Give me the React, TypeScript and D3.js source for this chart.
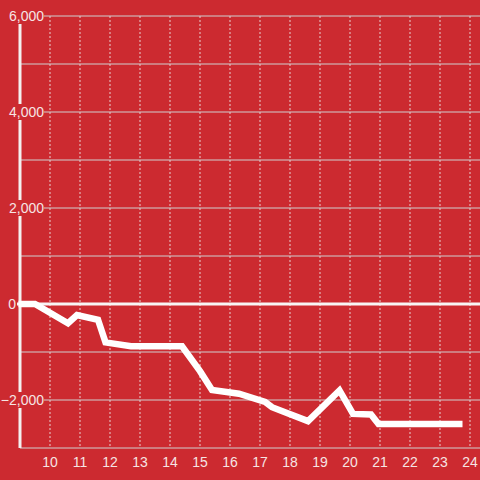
import React from "react";
import * as d3 from "d3";

const hours = [8.95, 9.5, 10.6, 10.9, 11.6, 11.85, 12.7, 14.4, 15.0, 15.4, 16.3, 17.17, 17.4, 18.6, 19.65, 20.1, 20.7, 20.95, 23.75];
const values = [0, 0, -400, -230, -330, -800, -880, -880, -1400, -1790, -1870, -2040, -2150, -2440, -1800, -2290, -2300, -2500, -2500];
const xTicks = [10, 11, 12, 13, 14, 15, 16, 17, 18, 19, 20, 21, 22, 23, 24];
const yGrid = [6000, 5000, 4000, 3000, 2000, 1000, 0, -1000, -2000, -3000];
const yLabels = [6000, 4000, 2000, 0, -2000];

const W = 480, H = 480;
const BG = "#cc2a30";
const TXT = "#f6e4e4";

export default function App() {
  const x = d3.scaleLinear().domain([9, 24.3333]).range([20, 480]);
  const y = d3.scaleLinear().domain([-3000, 6000]).range([448, 16]);
  const fmt = d3.format(",");
  const line = d3.line<number>().x((_, i) => x(hours[i])).y((v) => y(v));
  return (
    <svg width={W} height={H} style={{ position: "fixed", left: 0, top: 0, display: "block" }}
      fontFamily="'Liberation Sans', Arial, sans-serif">
      <rect x={0} y={0} width={W} height={H} fill={BG} />
      {xTicks.map((t) => (
        <line key={"vx" + t} x1={x(t)} x2={x(t)} y1={16} y2={448} stroke="#e8d0d0" strokeWidth={1} strokeDasharray="2,2" />
      ))}
      {yGrid.filter((v) => v !== 0).map((v) => (
        <line key={"hy" + v} x1={20} x2={480} y1={y(v)} y2={y(v)} stroke="#cfcfcf" strokeWidth={1} />
      ))}
      <line x1={20} x2={20} y1={16} y2={448} stroke="#f4f0f0" strokeWidth={3} />
      {yLabels.map((v) => {
        const s = fmt(v);
        const w = s.length * 7.6;
        const right = v === 0 ? 16 : 44;
        return (
          <g key={"yl" + v}>
            <rect x={right - w} y={y(v) - 8} width={w} height={16} fill={BG} />
            <text x={right} y={y(v)} dy="0.35em" textAnchor="end" fontSize={14} fill={TXT}>{s}</text>
          </g>
        );
      })}
      <line x1={17} x2={480} y1={y(0)} y2={y(0)} stroke="#f8f4f4" strokeWidth={3} />
      <path d={line(values) || ""} fill="none" stroke="#ffffff" strokeWidth={6.5} strokeLinejoin="miter" />
      {xTicks.map((t) => (
        <text key={"xl" + t} x={x(t)} y={462} dy="0.35em" textAnchor="middle" fontSize={14} fill={TXT}>{t}</text>
      ))}
    </svg>
  );
}
